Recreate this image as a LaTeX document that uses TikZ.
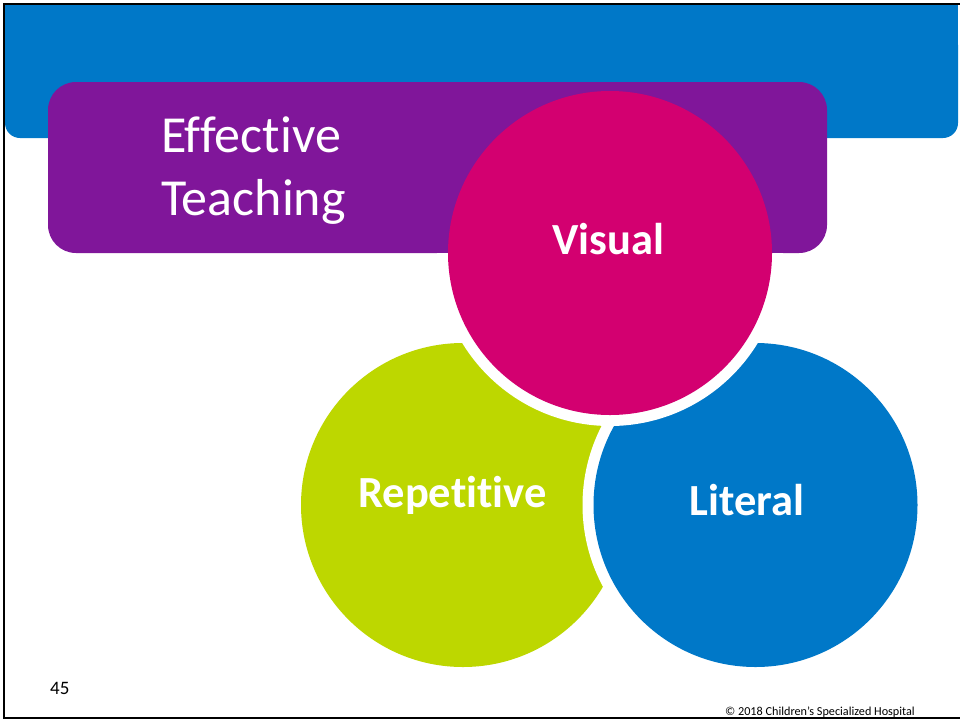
\documentclass[tikz,border=0pt]{standalone}
\usepackage{fontspec}
\setmainfont{Carlito}[Ligatures={NoCommon}]
\definecolor{barblue}{HTML}{0078C8}
\definecolor{boxpurple}{HTML}{80169A}
\definecolor{vismagenta}{HTML}{D30070}
\definecolor{repgreen}{HTML}{BDD700}
\def\rad{162pt}
\def\gap{173pt}

\begin{document}
\begin{tikzpicture}[x=1pt, y=-1pt, every node/.style={inner sep=0pt},
    disc/.style={circle, inner sep=0pt, minimum size=324pt},
    word/.style={anchor=base, text=white, font=\fontsize{44.5}{50}\selectfont\bfseries},
    title/.style={anchor=base west, text=white, font=\fontsize{52}{63}\selectfont}]
      \useasboundingbox (0,0) rectangle (960,721);
      \fill[white] (0,0) rectangle (960,721);
      % header bar and title box
      \fill[barblue] (5,5) rectangle (958,60);
      \fill[barblue, rounded corners=15pt] (5,30) rectangle (958,138);
      \fill[boxpurple, rounded corners=28pt] (48,82) rectangle (827,253);
      \node[title] (eff) at (161,152) {Effective};
      \node[title] (teach) at (161,215) {Teaching};
      % circles
      \coordinate (cR) at (463,505);
      \coordinate (cL) at (755.5,505);
      \coordinate (cV) at (610,253);
      \node[disc, fill=repgreen] (rep) at (cR) {};
      \fill[white] (cL) circle [radius=\gap];
      \node[disc, fill=barblue] (lit) at (cL) {};
      \begin{scope}
        \clip (0,253) rectangle (960,721);
        \fill[white] (cV) circle [radius=\gap];
      \end{scope}
      \node[disc, fill=vismagenta] (vis) at (cV) {};
      \node[word] (visual) at (608.5,254) {Visual};
      \node[word] (repetitive) at (452.5,507) {Repetitive};
      \node[word] (literal) at (747,515) {Literal};
      % footer
      \node[anchor=base west, font=\fontsize{19}{22}\selectfont] (page) at (50,694) {45};
      \node[anchor=base east, font=\fontsize{12.2}{14}\selectfont] (copy) at (915,715) {© 2018 Children’s Specialized Hospital};
      \draw[line width=2pt] (960,4) -- (4,4) -- (4,718) -- (960,718);
    \end{tikzpicture}
\end{document}
